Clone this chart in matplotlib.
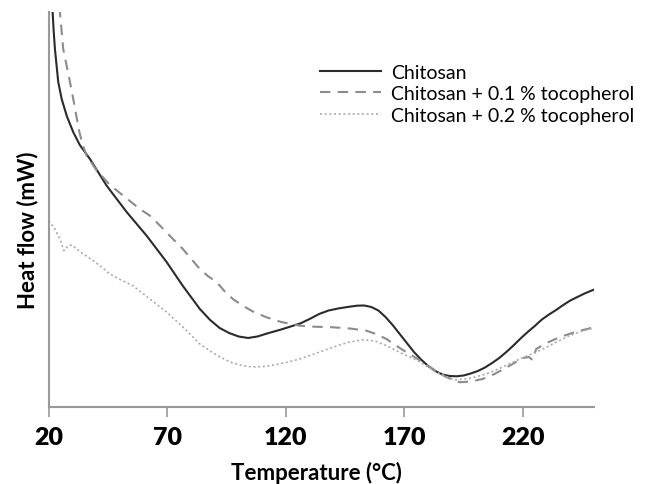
import matplotlib
matplotlib.use("Agg")
import matplotlib.pyplot as plt

# Temperature (°C) and heat flow (arbitrary units)
t_chitosan = [21.4, 22.0, 22.5, 23.9, 25.35, 27.5, 30.2, 33.0, 37.28, 44.33, 52.76,
              61.19, 69.62, 76.5, 83.66, 88.0, 92.0, 96.0, 100.0, 104.0, 108.0,
              112.0, 118.0, 122.0, 126.0, 130.0, 134.0, 138.0, 142.0, 146.0, 150.0,
              153.0, 156.0, 159.0, 162.0, 165.0, 168.0, 171.0, 174.0, 177.0, 180.0,
              183.0, 186.0, 189.0, 192.0, 195.0, 198.0, 201.0, 204.0, 207.0, 210.0,
              213.0, 216.0, 219.0, 222.0, 225.0, 228.0, 231.0, 234.0, 237.0, 240.0,
              243.0, 246.0, 249.9]
v_chitosan = [400, 375, 358, 325, 308, 291, 275, 262, 248, 221.3, 195,
              171.3, 145, 121, 98, 87, 79, 74, 70.5, 69, 70.5,
              73.5, 77.5, 80.5, 83.5, 88, 93, 96.5, 98.5, 100, 101.3,
              101.5, 100, 96.5, 90, 82, 73, 64, 55, 47.5, 41,
              36, 32.5, 31, 30.7, 31.5, 33.5, 36, 39.5, 44, 49,
              55, 61.5, 68.5, 75, 81, 87.5, 92.5, 97, 102, 106.5,
              110, 113.5, 117.3]

t_toco01 = [24.4, 26.0, 28.85, 30.24, 32.8, 34.33, 35.89, 40.0, 45.72, 52.0, 58.36,
            62.58, 67.0, 72.28, 76.5, 80.0, 83.66, 87.0, 90.7, 94.0, 97.57, 101.8,
            106.0, 111.78, 118.0, 125.8, 132.0, 139.7, 147.0, 153.9, 158.0, 162.4,
            166.0, 170.0, 175.6, 181.9, 187.5, 193.3, 198.0, 203.0, 208.0, 214.4,
            220.0, 222.5, 224.0, 225.6, 230.0, 235.4, 242.0, 249.9]
v_toco01 = [400, 358, 325, 308, 275, 261.3, 251.3, 237, 222, 210, 198,
            191.3, 181, 168, 158, 148, 138, 131, 125, 116, 108, 101.3,
            95.5, 89.7, 85, 81.3, 80.3, 79.7, 78.5, 76.3, 73, 68,
            62, 56, 48, 38, 30, 24.7, 25.5, 28, 33, 41.3,
            49, 50, 47, 58, 64, 69.7, 75, 79.7]

t_toco02 = [19.9, 22.5, 24.6, 26.3, 28.1, 29.6, 31.7, 34.5, 38.7, 41.5, 45.7,
            50.0, 55.4, 62.0, 69.6, 76.5, 83.66, 88.0, 92.1, 97.0, 101.8, 106.0,
            111.0, 115.0, 120.0, 125.8, 133.0, 139.7, 146.0, 152.4, 157.5, 162.4,
            168.5, 175.6, 182.7, 187.0, 191.2, 197.5, 204.5, 211.5, 218.6, 227.0,
            233.0, 239.6, 244.5, 249.8]
v_toco02 = [186.3, 178, 168, 156.3, 161.3, 162, 158, 153, 146.3, 141.3, 133,
            127.5, 121.3, 109, 95, 80, 63, 56, 50, 44.5, 41.3, 40,
            40.5, 42, 44.5, 48, 54, 59.7, 64.5, 67.3, 66, 61.3,
            54, 46.3, 36, 31, 27, 28.5, 33, 40, 48, 56.3,
            63.5, 71.3, 75.5, 79]

labels = ["Chitosan", "Chitosan + 0.1 % tocopherol", "Chitosan + 0.2 % tocopherol"]
xticks = [20, 70, 120, 170, 220]

fig = plt.figure(figsize=(6.49, 4.85), dpi=100)
ax = fig.add_axes([0.0755, 0.1588, 0.8398, 0.8144])

ax.plot(t_chitosan, v_chitosan, color="#2b2b2b", lw=1.5, label=labels[0])
ax.plot(t_toco01, v_toco01, color="#8c8c8c", lw=1.5, ls=(0, (5, 3.5)), label=labels[1])
ax.plot(t_toco02, v_toco02, color="#aaaaaa", lw=1.2, ls=(0, (1.2, 1.6)), label=labels[2])

ax.set_xlim(20, 250)
ax.set_ylim(0, 395)
ax.set_xticks(xticks)
ax.set_xticklabels([str(v) for v in xticks], fontfamily="Lato", fontweight="heavy", fontsize=18)
ax.set_yticks([])
ax.tick_params(axis="x", direction="out", length=7, width=1.2, color="#999999", pad=7)
for s in ["top", "right"]:
    ax.spines[s].set_visible(False)
for s in ["left", "bottom"]:
    ax.spines[s].set_color("#999999")
    ax.spines[s].set_linewidth(1.5)

fig.text(0.487, 0.025, "Temperature (°C)", ha="center", va="center",
         fontfamily="Lato", fontweight="bold", fontsize=16)
fig.text(0.042, 0.525, "Heat flow (mW)", ha="center", va="center", rotation=90,
         fontfamily="Lato", fontweight="bold", fontsize=16)

leg = ax.legend(loc="upper left", bbox_to_anchor=(0.479, 0.893), frameon=False,
                prop={"family": "Lato", "size": 14}, handlelength=3.15,
                handletextpad=0.5, labelspacing=0.22, borderpad=0)

fig.savefig("out.png", dpi=100)
